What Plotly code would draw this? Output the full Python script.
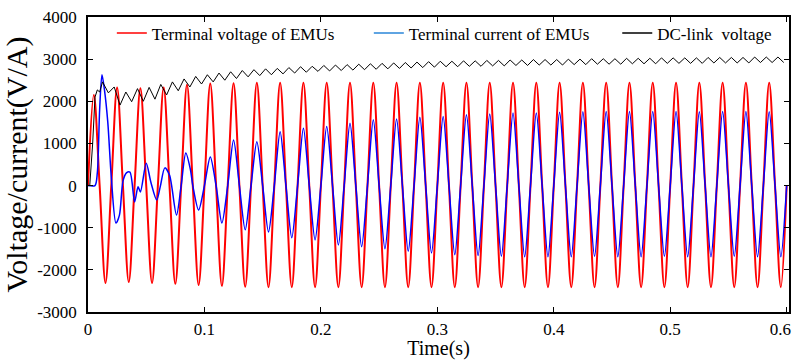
import plotly.graph_objects as go

# ---------------- data ----------------
# Terminal voltage of EMUs (50 Hz): peak / trough per cycle (k = 0..29)
red_peak = [2150, 2330, 2310, 2330, 2390, 2420, 2430, 2440, 2440, 2440,
            2440, 2440, 2440, 2440, 2440, 2440, 2440, 2440, 2440, 2440,
            2440, 2440, 2440, 2440, 2440, 2440, 2440, 2440, 2440, 2440]
red_trough = [-2310, -2290, -2310, -2330, -2360, -2380, -2400, -2410, -2410, -2410,
              -2410, -2410, -2410, -2410, -2410, -2410, -2410, -2410, -2410, -2410,
              -2410, -2410, -2410, -2410, -2410, -2410, -2410, -2410, -2410, -2410]

# Terminal current of EMUs: start-up transient (explicit points)
blue_t0 = [0, 0.006, 0.008, 0.010, 0.012, 0.014, 0.017, 0.020, 0.024, 0.027,
           0.030, 0.033, 0.036, 0.040, 0.043, 0.045, 0.050, 0.054, 0.059, 0.062,
           0.066, 0.070, 0.076, 0.080, 0.084, 0.088, 0.090]
blue_v0 = [0, 0, 300, 1800, 2630, 2300, 1500, 200, -890, -700,
           100, 300, 320, -390, -30, -150, 530, 80, -340, -30,
           420, 250, -700, 0, 770, 370, 0]
# then peak per cycle (k = 5..29) and trough per cycle (k = 4..29)
blue_peak = [680, 1080, 1040, 1280, 1360, 1400, 1480, 1560, 1580, 1620,
             1640, 1680, 1700, 1720, 1720, 1740, 1750, 1760, 1760, 1760,
             1760, 1750, 1760, 1760, 1750]
blue_trough = [-580, -890, -1050, -1100, -1240, -1290, -1410, -1450, -1500, -1560,
               -1600, -1640, -1660, -1680, -1690, -1690, -1690, -1680, -1690, -1690,
               -1680, -1690, -1690, -1680, -1690, -1690]

# DC-link voltage: start-up, then ripple highs / lows (100 Hz, k = 1..59)
dc_t0 = [0, 0.0015, 0.004, 0.006, 0.008, 0.010]
dc_v0 = [0, 0, 1000, 2100, 2270, 2220]
dc_hi = [2460, 2340, 2220, 2300, 2330, 2400, 2460, 2530, 2590, 2630,
         2670, 2700, 2730, 2750, 2770, 2780, 2800, 2820, 2830, 2850,
         2860, 2870, 2880, 2890, 2900, 2910, 2920, 2930, 2940, 2950,
         2950, 2960, 2960, 2970, 2970, 2980, 2980, 2990, 2990, 2990,
         3000, 3000, 3010, 3010, 3010, 3020, 3020, 3020, 3030, 3030,
         3030, 3030, 3040, 3040, 3040, 3040, 3050, 3050, 3050]
dc_lo = [2200, 1910, 1990, 2000, 2050, 2150, 2250, 2340, 2410, 2460,
         2500, 2540, 2580, 2610, 2630, 2650, 2670, 2690, 2710, 2720,
         2730, 2740, 2750, 2760, 2770, 2780, 2790, 2800, 2810, 2820,
         2820, 2830, 2830, 2840, 2840, 2850, 2850, 2860, 2860, 2860,
         2870, 2870, 2880, 2880, 2880, 2890, 2890, 2890, 2900, 2900,
         2900, 2900, 2910, 2910, 2910, 2910, 2920, 2920, 2920]

x_ticks = [0, 0.1, 0.2, 0.3, 0.4, 0.5, 0.6]
x_labels = ["0", "0.1", "0.2", "0.3", "0.4", "0.5", "0.6&nbsp;&nbsp;&nbsp;"]
y_ticks = [-3000, -2000, -1000, 0, 1000, 2000, 3000, 4000]
y_labels = ["-3000", "-2000", "-1000", "0", "1000", "2000", "3000", "4000"]

# ---------------- build series ----------------
T = 0.02
red_t, red_v = [], []
for k in range(30):
    t0 = k * T
    red_t += [t0, t0 + T / 4, t0 + T / 2, t0 + 3 * T / 4]
    red_v += [0, red_peak[k], 0, red_trough[k]]
red_t.append(0.6)
red_v.append(0)

blue_t, blue_v = list(blue_t0), list(blue_v0)
for i, k in enumerate(range(4, 30)):
    blue_t += [k * T + 3 * T / 4, (k + 1) * T]
    blue_v += [blue_trough[i], 0]
    if k + 1 <= 29:
        blue_t += [(k + 1) * T + T / 4, (k + 1) * T + T / 2]
        blue_v += [blue_peak[k + 1 - 5], 0]

dc_t, dc_v = list(dc_t0), list(dc_v0)
for k in range(1, 60):
    dc_t += [k * 0.01 + 0.0025, k * 0.01 + 0.0075]
    dc_v += [dc_hi[k - 1], dc_lo[k - 1]]

# ---------------- figure ----------------
fig = go.Figure()
fig.add_trace(go.Scatter(x=red_t, y=red_v, mode="lines", showlegend=False,
                         line=dict(color="#ff0000", width=2, shape="spline", smoothing=1)))
fig.add_trace(go.Scatter(x=blue_t, y=blue_v, mode="lines", showlegend=False,
                         line=dict(color="#0000ff", width=1.5, shape="spline", smoothing=0.8)))
fig.add_trace(go.Scatter(x=dc_t, y=dc_v, mode="lines", showlegend=False,
                         line=dict(color="#000000", width=1)))

# legend entries, each in its own legend box
legend_items = [("Terminal voltage of EMUs", "#ff0000", "legend"),
                ("Terminal current of EMUs", "#2a86d8", "legend2"),
                ("DC-link  voltage", "#000000", "legend3")]
for name, col, lg in legend_items:
    fig.add_trace(go.Scatter(x=[None], y=[None], mode="lines", name=name, legend=lg,
                             line=dict(color=col, width=1.5)))

axis_common = dict(showline=True, linecolor="black", linewidth=1.5, mirror="ticks",
                   ticks="inside", ticklen=5, tickcolor="black", tickwidth=1,
                   showgrid=False, zeroline=False, automargin=False,
                   ticklabeloverflow="allow",
                   tickfont=dict(family="Liberation Serif", size=17, color="black"))

leg_common = dict(orientation="h", y=1.005, xanchor="left", yanchor="top",
                  font=dict(size=17, family="Liberation Serif", color="black"),
                  bgcolor="rgba(0,0,0,0)")

fig.update_layout(
    width=792, height=360,
    margin=dict(l=88, r=3, t=17, b=48, autoexpand=False),
    plot_bgcolor="white", paper_bgcolor="white",
    font=dict(family="Liberation Serif", color="black"),
    xaxis=dict(range=[0, 0.602], tickvals=x_ticks, ticktext=x_labels,
               ticklabelstandoff=1,
               title=dict(text="Time(s)", font=dict(size=20), standoff=3),
               **axis_common),
    yaxis=dict(range=[-3000, 4000], tickvals=y_ticks, ticktext=y_labels,
               ticklabelstandoff=6,
               title=dict(text="Voltage/current(V/A)", font=dict(size=30), standoff=2),
               **axis_common),
    legend=dict(x=0.034, **leg_common),
    legend2=dict(x=0.4006, **leg_common),
    legend3=dict(x=0.755, **leg_common),
)

fig.write_html("out.html", config={"displayModeBar": False},
               post_script="document.body.style.margin='0';document.body.style.padding='0';")
